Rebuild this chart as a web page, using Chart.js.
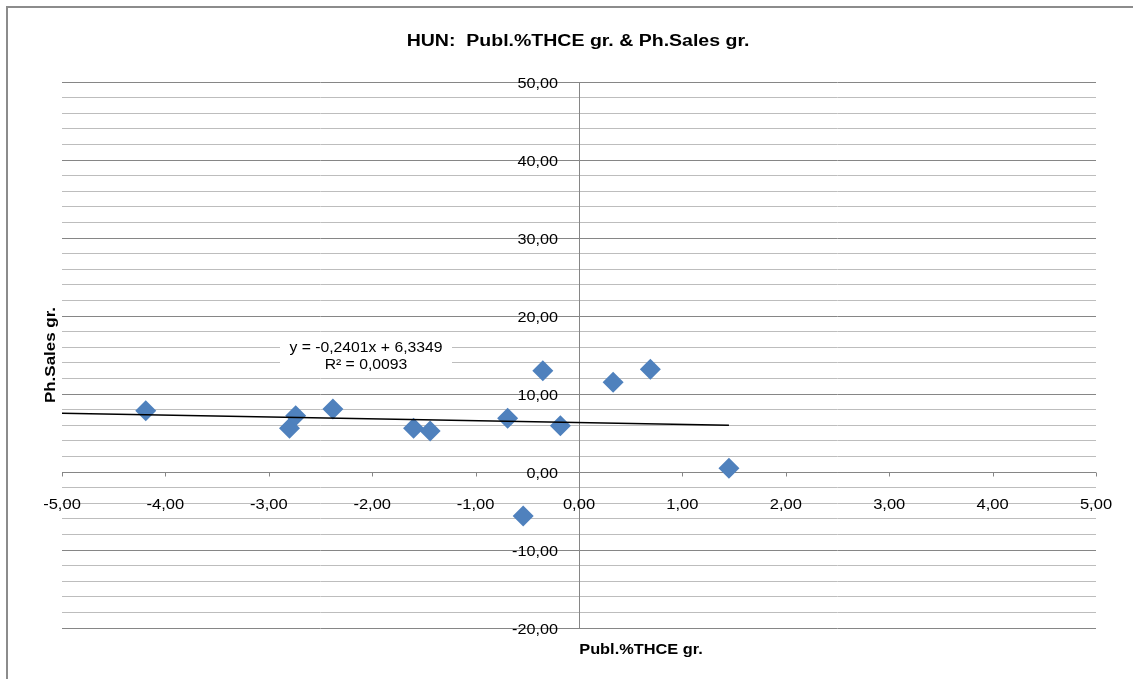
<!doctype html>
<html lang="en">
<head>
  <meta charset="UTF-8">
  <title>HUN: Publ.%THCE gr. & Ph.Sales gr.</title>
  <script src="https://cdn.jsdelivr.net/npm/chart.js@4/dist/chart.umd.min.js"></script>
  <style>
    body { margin: 0; background: #fff; }
  </style>
</head>
<body>
  <canvas id="canvas" width="1133" height="679"></canvas>
  <script>
    // yearly growth pairs: public share of THCE vs pharma sales
    var pubGrowth = [-4.19, -2.80, -2.74, -2.38, -1.60, -1.44, -0.69, -0.54, -0.35, -0.18, 0.33, 0.69, 1.45];
    var salesGrowth = [7.86, 5.60, 7.22, 8.08, 5.60, 5.26, 6.88, -5.64, 12.99, 5.94, 11.50, 13.17, 0.47];

    // linear trend as reported by the spreadsheet
    var trendSlope = -0.2401;
    var trendIntercept = 6.3349;
    var trendR2 = 0.0093;

    var xMin = -5, xMax = 5;
    var yMin = -20, yMax = 50;

    const fmt = v => v.toFixed(2).replace('.', ',').replace('-0,00', '0,00');
    const dec = v => String(v).replace('.', ',');

    var points = pubGrowth.map((x, i) => ({ x: x, y: salesGrowth[i] }));
    var trendEnd = Math.max.apply(null, pubGrowth);
    var trendPoints = [xMin, trendEnd].map(x => ({ x: x, y: trendSlope * x + trendIntercept }));

    const FONT = '"Liberation Sans", Arial, sans-serif';

    const wideText = (ctx, text, x, y, opts) => {
      ctx.save();
      ctx.translate(x, y);
      if (opts.rotate) ctx.rotate(opts.rotate);
      ctx.scale(opts.sx || 1, 1);
      ctx.font = (opts.bold ? 'bold ' : '') + opts.size + 'px ' + FONT;
      ctx.fillStyle = '#000';
      ctx.textAlign = opts.align || 'center';
      ctx.textBaseline = 'alphabetic';
      ctx.fillText(text, 0, 0);
      ctx.restore();
    };

    const excelFrame = {
      id: 'excelFrame',
      beforeDatasetsDraw(chart) {
        var ctx = chart.ctx, xs = chart.scales.x, ys = chart.scales.y;
        var area = chart.chartArea;
        var y0 = Math.round(ys.getPixelForValue(0)) + 0.5;
        var x0 = Math.round(xs.getPixelForValue(0)) + 0.5;
        ctx.save();
        ctx.strokeStyle = '#868686';
        ctx.lineWidth = 1;
        ctx.beginPath();
        ctx.moveTo(area.left, y0);
        ctx.lineTo(area.right, y0);
        xs.ticks.forEach(t => {
          var px = Math.round(xs.getPixelForValue(t.value)) + 0.5;
          ctx.moveTo(px, y0);
          ctx.lineTo(px, y0 + 4);
        });
        ctx.moveTo(x0, area.top);
        ctx.lineTo(x0, area.bottom);
        ctx.stroke();
        ctx.restore();
      },
      afterDraw(chart) {
        var ctx = chart.ctx, xs = chart.scales.x, ys = chart.scales.y;
        var y0 = ys.getPixelForValue(0);
        var x0 = xs.getPixelForValue(0);

        // tick labels sit next to the crossing axes
        ys.ticks.forEach(t => {
          if (t.value % 10 !== 0) return;
          wideText(ctx, fmt(t.value), x0 - 21, ys.getPixelForValue(t.value) + 5.5,
            { size: 15, sx: 1.08, align: 'right' });
        });
        xs.ticks.forEach(t => {
          wideText(ctx, fmt(t.value), xs.getPixelForValue(t.value), y0 + 37,
            { size: 15, sx: 1.1 });
        });

        // titles
        wideText(ctx, 'HUN:  Publ.%THCE gr. & Ph.Sales gr.', 578, 46, { size: 16, sx: 1.22, bold: true });
        wideText(ctx, 'Publ.%THCE gr.', 641, 654, { size: 15, sx: 1.09, bold: true });
        wideText(ctx, 'Ph.Sales gr.', 55, 355, { size: 15, sx: 1.13, bold: true, rotate: -Math.PI / 2 });

        // trend equation box
        ctx.save();
        ctx.fillStyle = '#fff';
        ctx.fillRect(280, 334, 172, 42);
        ctx.restore();
        wideText(ctx, 'y = ' + dec(trendSlope) + 'x + ' + dec(trendIntercept), 366, 352, { size: 15, sx: 1.05 });
        wideText(ctx, 'R² = ' + dec(trendR2), 366, 369, { size: 15, sx: 1.05 });

        // outer chart border
        ctx.save();
        ctx.strokeStyle = '#8c8c8c';
        ctx.lineWidth = 2;
        ctx.strokeRect(7, 7, 1300, 800);
        ctx.restore();
      }
    };

    new Chart(document.getElementById('canvas'), {
      type: 'scatter',
      data: {
        datasets: [
          {
            label: 'Ph.Sales gr.',
            data: points,
            pointStyle: 'rectRot',
            pointRadius: 10.5,
            pointHoverRadius: 10.5,
            backgroundColor: '#4f81bd',
            borderWidth: 0,
            order: 1
          },
          {
            label: 'Trend',
            data: trendPoints,
            showLine: true,
            borderColor: '#000',
            borderWidth: 1.5,
            pointRadius: 0,
            pointHoverRadius: 0,
            order: 0
          }
        ]
      },
      options: {
        responsive: false,
        maintainAspectRatio: false,
        animation: false,
        devicePixelRatio: 1,
        layout: { padding: { left: 62, right: 37, top: 82, bottom: 51 } },
        plugins: {
          legend: { display: false },
          tooltip: { enabled: false },
          title: { display: false }
        },
        scales: {
          x: {
            type: 'linear',
            min: xMin,
            max: xMax,
            ticks: { stepSize: 1, display: false },
            grid: { display: false, drawTicks: false },
            border: { display: false }
          },
          y: {
            type: 'linear',
            min: yMin,
            max: yMax,
            ticks: { stepSize: 2, display: false },
            grid: {
              drawTicks: false,
              lineWidth: 1,
              color: c => (c.tick && c.tick.value % 10 === 0) ? '#868686' : '#bdbdbd'
            },
            border: { display: false }
          }
        }
      },
      plugins: [excelFrame]
    });
  </script>
</body>
</html>
